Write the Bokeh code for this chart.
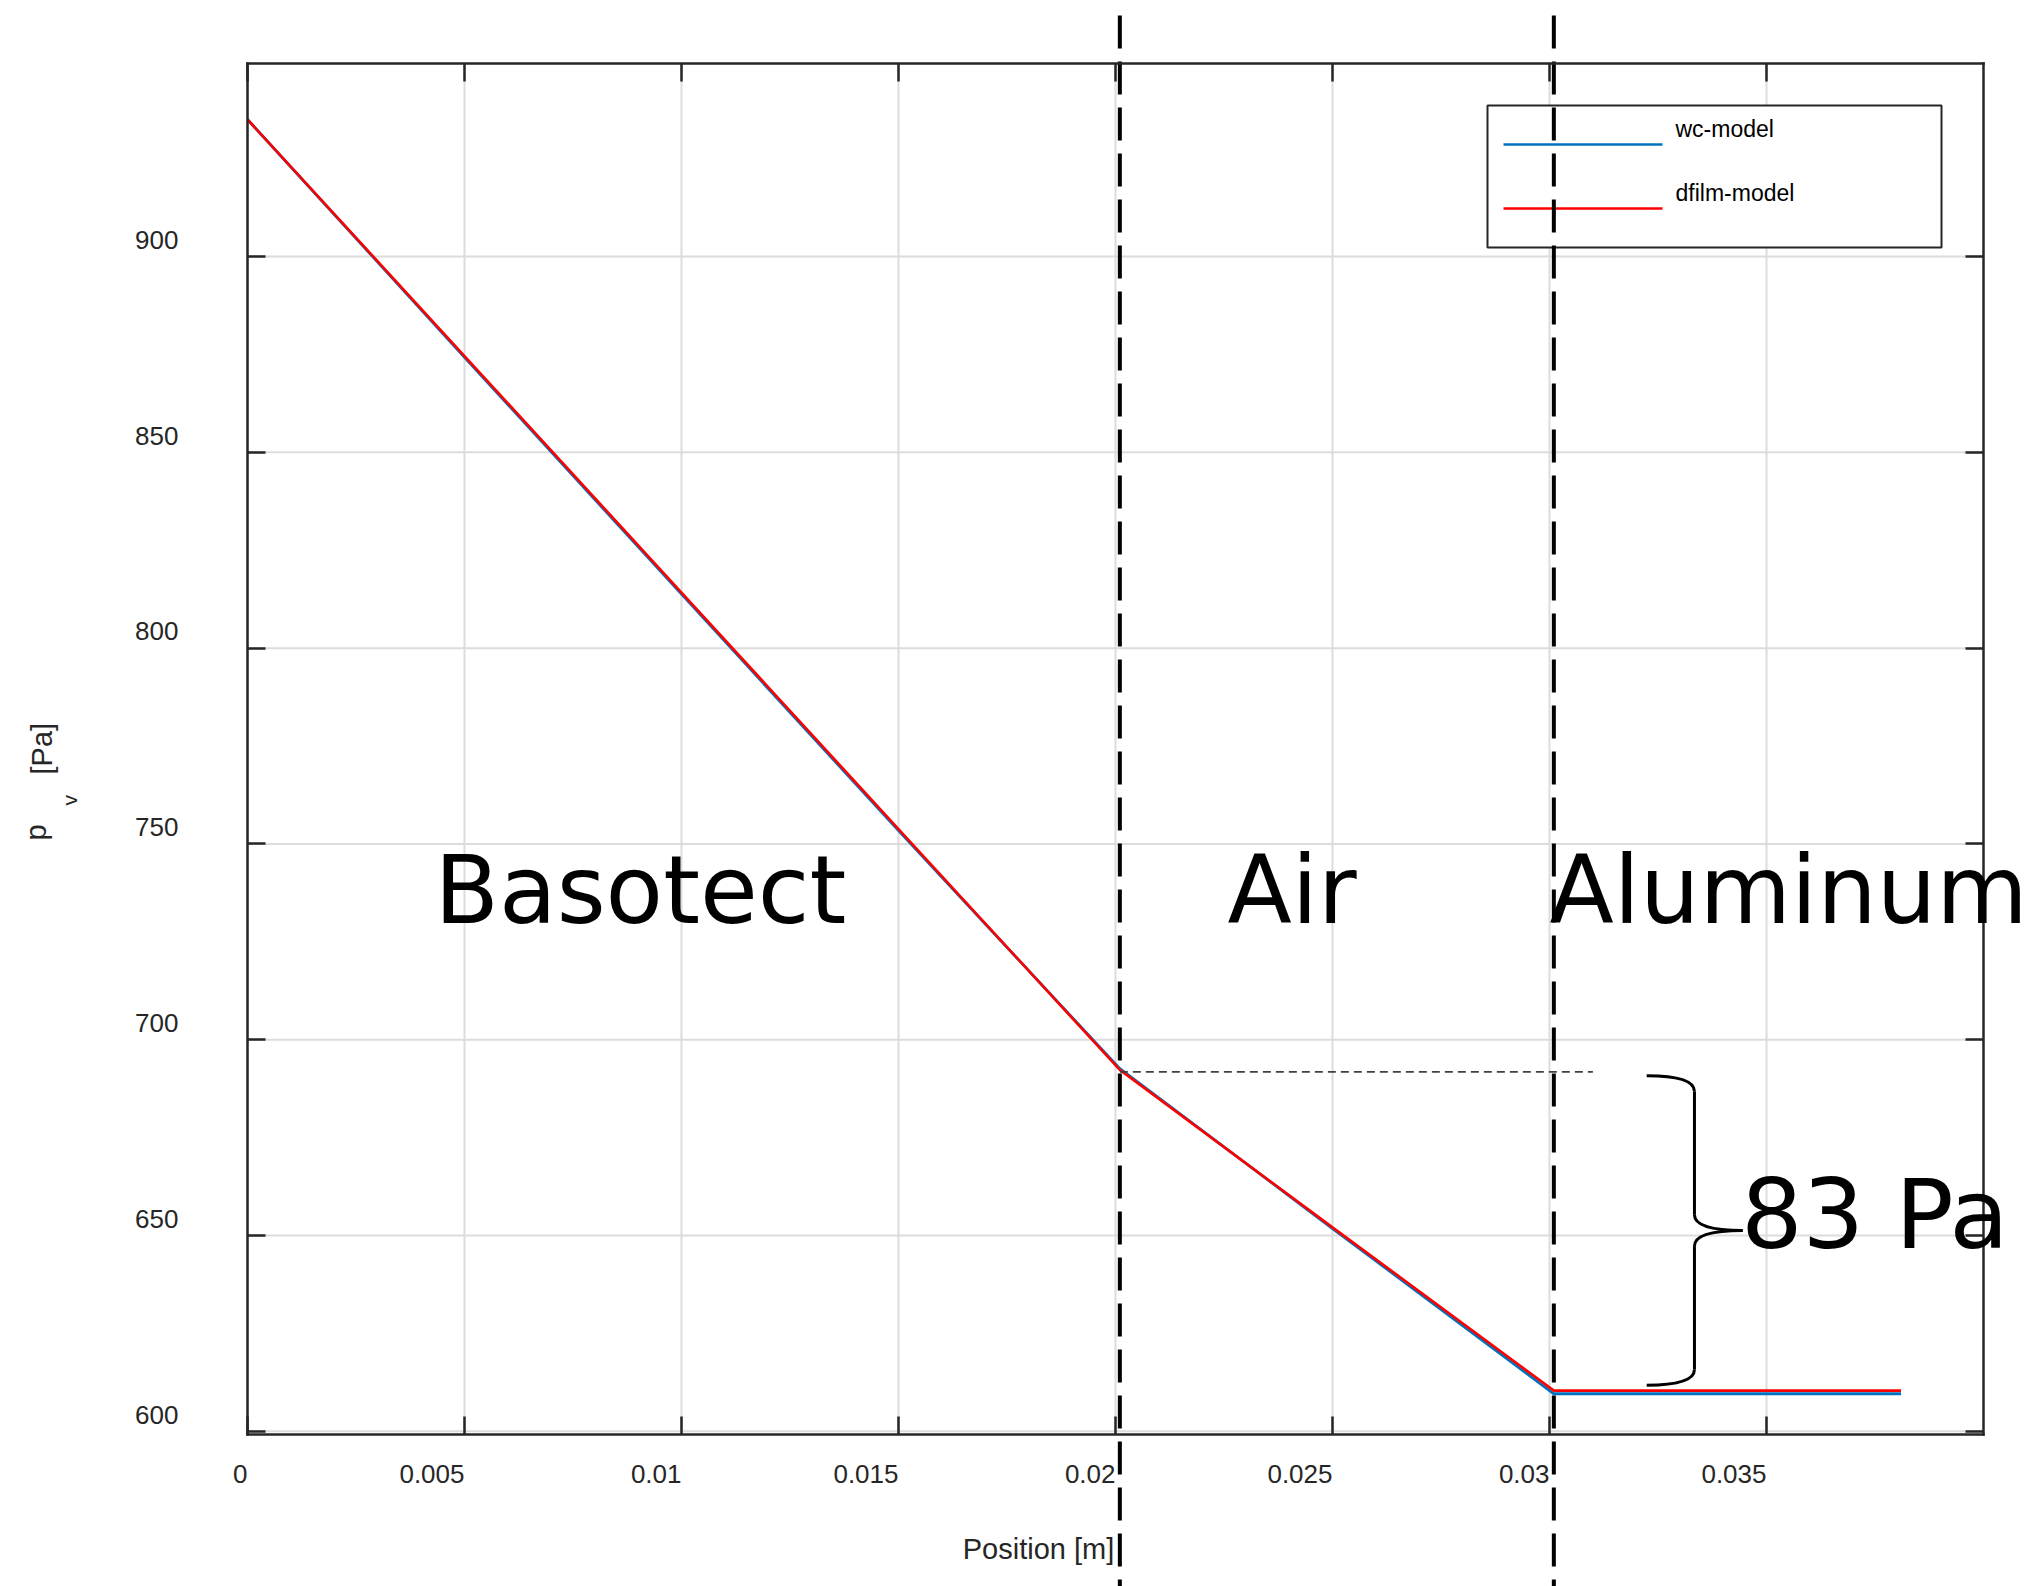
import math
from bokeh.plotting import figure
from bokeh.models import Range1d, FixedTicker, LinearAxis, Label
from bokeh.embed import file_html
from bokeh.resources import INLINE

# ---------------- data ----------------
position_m = [0.0, 0.005, 0.01, 0.015, 0.0201, 0.025, 0.0301, 0.0381]
wc_model_pa = [935.0, 874.3, 813.8, 753.4, 692.6, 651.8, 609.6, 609.6]
dfilm_model_pa = [935.0, 874.6, 814.2, 753.8, 692.3, 652.1, 610.4, 610.4]

layer_bounds = [0.0201, 0.0301]
layer_names = ["Basotect", "Air", "Aluminum"]
layer_label_x = [0.00431, 0.02258, 0.0300]
layer_label_y = 729.0

drop_text = "83 Pa"
drop_label_x = 0.03441
drop_label_y = 646.0
drop_ref_end_x = 0.031
brace_x = [0.03224, 0.03334, 0.03445]   # tips, spine, point

x_ticks = [0.0, 0.005, 0.01, 0.015, 0.02, 0.025, 0.03, 0.035]
x_tick_labels = ["0", "0.005", "0.01", "0.015", "0.02", "0.025", "0.03", "0.035"]
y_ticks = [600, 650, 700, 750, 800, 850, 900]
y_tick_labels = ["600", "650", "700", "750", "800", "850", "900"]

series_names = ["wc-model", "dfilm-model"]
series_colors = ["#0072BD", "#FF0000"]

# ---------------- layout ----------------
W, H = 2038, 1586
FL, FR, FT, FB = 247, 1983, 63, 1434      # axes box in page pixels
X0, X1 = 0.0, 0.04
Y0, Y1 = 599.2, 949.3


def dx(px):
    return X0 + (px - FL) / (FR - FL) * (X1 - X0)


def dy(py):
    return Y1 - (py - FT) / (FB - FT) * (Y1 - Y0)


BASE = 0.375   # text anchor -> alphabetic baseline shift (em)
TXT = "#262626"
FONT = "Liberation Sans"

p = figure(width=W, height=H,
           x_range=Range1d(dx(0), dx(W)), y_range=Range1d(dy(H), dy(0)),
           output_backend="svg", toolbar_location=None,
           x_axis_type=None, y_axis_type=None, min_border=0)
p.title.visible = False
p.background_fill_color = "white"
p.border_fill_color = "white"
p.outline_line_color = None
p.xgrid.visible = False
p.ygrid.visible = False

xt = FixedTicker(ticks=x_ticks, minor_ticks=[])
yt = FixedTicker(ticks=y_ticks, minor_ticks=[])

# grid lines limited to the axes box
p.segment(x0=x_ticks, y0=[Y0] * len(x_ticks), x1=x_ticks, y1=[Y1] * len(x_ticks),
          line_color="#dcdcdc", line_width=2)
p.segment(x0=[X0] * len(y_ticks), y0=y_ticks, x1=[X1] * len(y_ticks), y1=y_ticks,
          line_color="#dcdcdc", line_width=2)


def mk_axis(ticker, loc, bounds):
    return LinearAxis(ticker=ticker, fixed_location=loc, bounds=bounds,
                      major_tick_in=18, major_tick_out=0,
                      minor_tick_line_color=None,
                      axis_line_color=TXT, axis_line_width=2.5, axis_line_cap="square",
                      major_tick_line_color=TXT, major_tick_line_width=2.5,
                      major_label_text_color=None)


p.add_layout(mk_axis(xt, Y0, (X0, X1)), "below")
p.add_layout(mk_axis(xt, Y1, (X0, X1)), "above")
p.add_layout(mk_axis(yt, X0, (Y0, Y1)), "left")
p.add_layout(mk_axis(yt, X1, (Y0, Y1)), "right")

# ---------------- data lines ----------------
p.line(position_m, wc_model_pa, line_color=series_colors[0], line_width=2.8)
p.line(position_m, dfilm_model_pa, line_color=series_colors[1], line_width=2.6)

# horizontal reference (dashed) at top of the drop
drop_top = dfilm_model_pa[4] - 0.5
p.line([layer_bounds[0], drop_ref_end_x], [drop_top, drop_top],
       line_color="#404040", line_width=1.6, line_dash="8 5")

# curly brace spanning the drop
yT = drop_top - 1.0
yB = dfilm_model_pa[-1] + 1.4
yM = 0.5 * (yT + yB)
dh = 4.0
xtip, xsp, xpt = brace_x
bk = dict(line_color="black", line_width=3)
p.quadratic(x0=[xtip], y0=[yT], x1=[xsp], y1=[yT - dh], cx=[xsp], cy=[yT], **bk)
p.segment(x0=[xsp], y0=[yT - dh], x1=[xsp], y1=[yM + dh], **bk)
p.quadratic(x0=[xsp], y0=[yM + dh], x1=[xpt], y1=[yM], cx=[xsp], cy=[yM], **bk)
p.quadratic(x0=[xpt], y0=[yM], x1=[xsp], y1=[yM - dh], cx=[xsp], cy=[yM], **bk)
p.segment(x0=[xsp], y0=[yM - dh], x1=[xsp], y1=[yB + dh], **bk)
p.quadratic(x0=[xsp], y0=[yB + dh], x1=[xtip], y1=[yB], cx=[xsp], cy=[yB], **bk)

# ---------------- legend (MATLAB style) ----------------
p.quad(left=[dx(1487)], right=[dx(1941)], top=[dy(105)], bottom=[dy(247)],
       fill_color="white", line_color=TXT, line_width=2)
for i, (name, col) in enumerate(zip(series_names, series_colors)):
    ly = 144 + 64 * i
    p.line([dx(1503), dx(1662)], [dy(ly), dy(ly)], line_color=col, line_width=2.6)
    p.add_layout(Label(x=dx(1675), y=dy(ly - 7 - BASE * 23), text=name,
                       text_align="left", text_baseline="alphabetic",
                       text_font=FONT, text_font_size="23px", text_color="black"))

# vertical layer boundaries (dashed, running past the axes)
for b in layer_bounds:
    p.line([b, b], [dy(15), dy(H)], line_color="black", line_width=4,
           line_dash="33 13")

# ---------------- tick labels ----------------
for t, s in zip(x_ticks, x_tick_labels):
    p.add_layout(Label(x=t, y=dy(1483 - BASE * 26), text=s, x_offset=0,
                       text_align="right", text_baseline="alphabetic",
                       text_font=FONT, text_font_size="26px", text_color=TXT))
PX_PER_PA = (FB - FT) / (Y1 - Y0)
for t, s in zip(y_ticks, y_tick_labels):
    p.add_layout(Label(x=dx(178), y=t + (7 + BASE * 26) / PX_PER_PA, text=s,
                       text_align="right", text_baseline="alphabetic",
                       text_font=FONT, text_font_size="26px", text_color=TXT))

# axis titles
p.add_layout(Label(x=dx(1038), y=dy(1559 - BASE * 29), text="Position [m]",
                   text_align="center", text_baseline="alphabetic", text_font=FONT,
                   text_font_size="29px", text_color=TXT))
for txt, bx, by, fs in [("p", 46, 840, 29), ("v", 77, 805, 21), ("[Pa]", 52, 774, 29)]:
    p.add_layout(Label(x=dx(bx - BASE * fs), y=dy(by), text=txt, angle=math.pi / 2,
                       text_align="left", text_baseline="alphabetic",
                       text_font=FONT, text_font_size=f"{fs}px", text_color=TXT))

# ---------------- region labels ----------------
BIG = 94
for name, lx in zip(layer_names, layer_label_x):
    p.add_layout(Label(x=lx, y=layer_label_y + BASE * BIG / PX_PER_PA, text=name,
                       text_align="left", text_baseline="alphabetic",
                       text_font="DejaVu Sans", text_font_size=f"{BIG}px",
                       text_color="black"))
DROP_FS = 97
p.add_layout(Label(x=drop_label_x, y=drop_label_y + BASE * DROP_FS / PX_PER_PA,
                   text=drop_text, text_align="left", text_baseline="alphabetic",
                   text_font="DejaVu Sans", text_font_size=f"{DROP_FS}px",
                   text_color="black"))

open("out.html", "w").write(file_html(p, INLINE))
